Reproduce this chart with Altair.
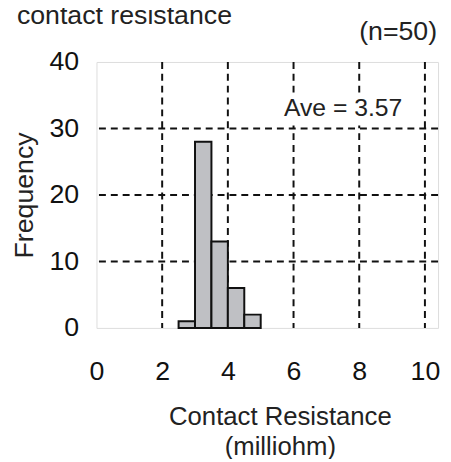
import altair as alt
import pandas as pd

bin_start = [2.5, 3.0, 3.5, 4.0, 4.5]
bin_end = [3.0, 3.5, 4.0, 4.5, 5.0]
frequency = [1, 28, 13, 6, 2]
x_ticks = [0, 2, 4, 6, 8, 10]
y_ticks = [0, 10, 20, 30, 40]
x_grid = [2, 4, 6, 8, 10]
y_grid = [10, 20, 30]
title_text = "contact resistance"
n_text = "(n=50)"
ave_text = "Ave = 3.57"

df = pd.DataFrame({"start": bin_start, "end": bin_end, "freq": frequency})

FONT = "Liberation Sans"
FS = 27
W, H = 345.5, 269

xscale = alt.Scale(domain=[0, 10.4], nice=False)
yscale = alt.Scale(domain=[0, 40], nice=False)

vgrid = alt.Chart(pd.DataFrame({"v": x_grid})).mark_rule(
    color="#111111", strokeWidth=2, strokeDash=[7, 5]
).encode(x=alt.X("v:Q", scale=xscale))

hgrid = alt.Chart(pd.DataFrame({"v": y_grid})).mark_rule(
    color="#111111", strokeWidth=2, strokeDash=[7, 5]
).encode(y=alt.Y("v:Q", scale=yscale))

bars = alt.Chart(df).mark_bar(
    fill="#bfc0c4", stroke="#111111", strokeWidth=2
).encode(
    x=alt.X("start:Q", scale=xscale,
            axis=alt.Axis(values=x_ticks, title=["Contact Resistance", "(milliohm)"],
                          grid=False, ticks=False, domain=False, labelFlush=False,
                          labelFont=FONT, labelFontSize=FS, labelColor="#111111",
                          labelPadding=31, titleFont=FONT, titleFontSize=26,
                          titleFontWeight="normal", titleColor="#222222",
                          titleLineHeight=30, titleX=185.5, titleY=98,
                          titleAlign="center", titleBaseline="alphabetic")),
    x2="end:Q",
    y=alt.Y("freq:Q", scale=yscale,
            axis=alt.Axis(values=y_ticks, title="Frequency",
                          grid=False, ticks=False, domain=False, labelFlush=False,
                          labelFont=FONT, labelFontSize=FS, labelColor="#111111",
                          labelPadding=18, titleFont=FONT, titleFontSize=FS,
                          titleFontWeight="normal", titleColor="#222222",
                          titleX=-64.5, titleY=134.5, titleAngle=270,
                          titleAlign="center", titleBaseline="alphabetic")),
    y2=alt.datum(0),
)

ann_box = pd.DataFrame({"x1": [5.49], "x2": [9.45], "y1": [30.45], "y2": [35.2]})
ave_bg = alt.Chart(ann_box).mark_rect(fill="white").encode(
    x=alt.X("x1:Q", scale=xscale), x2="x2:Q",
    y=alt.Y("y1:Q", scale=yscale), y2="y2:Q",
)

ann = pd.DataFrame({"x": [9.31], "y": [31.8], "t": [ave_text]})
ave = alt.Chart(ann).mark_text(
    align="right", baseline="alphabetic", font=FONT, fontSize=25, color="#222222"
).encode(x=alt.X("x:Q", scale=xscale), y=alt.Y("y:Q", scale=yscale), text="t:N")

title = alt.Chart(pd.DataFrame({"t": [title_text]})).mark_text(
    align="left", baseline="alphabetic", font=FONT, fontSize=FS, color="#222222"
).encode(x=alt.value(-80.5), y=alt.value(-38), text="t:N")

ntext = alt.Chart(pd.DataFrame({"t": [n_text]})).mark_text(
    align="right", baseline="alphabetic", font=FONT, fontSize=FS, color="#222222"
).encode(x=alt.value(344.5), y=alt.value(-22), text="t:N")

chart = alt.layer(vgrid, hgrid, ave_bg, bars, ave, title, ntext).properties(
    width=W, height=H,
    autosize=alt.AutoSizeParams(type="none"),
    padding={"left": 89.5, "top": 52, "right": 5, "bottom": 130},
).configure_view(stroke="#222222", strokeWidth=2).configure(background="white")

chart.save("out.html", embed_options={"renderer": "svg", "actions": False})
